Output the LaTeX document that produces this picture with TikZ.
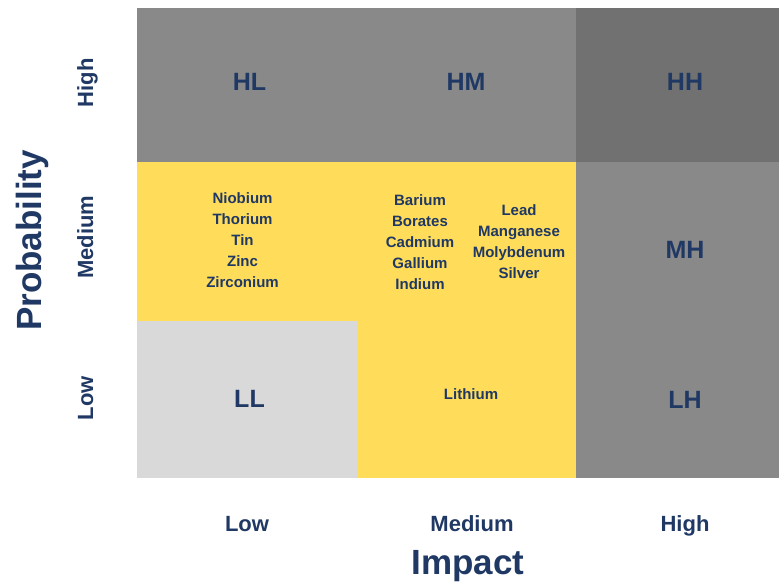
\documentclass[tikz,border=0pt]{standalone}
\usepackage{fontspec}
\setmainfont{Liberation Sans}
\definecolor{navy}{HTML}{1F3864}
\definecolor{cellgray}{HTML}{898989}
\definecolor{darkcell}{HTML}{717171}
\definecolor{riskyellow}{HTML}{FFDC5A}
\definecolor{lightcell}{HTML}{D9D9D9}
\begin{document}
\begin{tikzpicture}[x=1pt,y=-1pt,
  code/.style={text=navy, inner sep=0pt, text height=18.2pt, text depth=0pt, font=\bfseries\fontsize{25}{30}\selectfont},
  elem/.style={text=navy, inner sep=0pt, align=center, font=\bfseries\fontsize{15}{21}\selectfont},
  axlab/.style={text=navy, inner sep=0pt, text height=16pt, text depth=0pt, font=\bfseries\fontsize{22}{26}\selectfont},
  axtitle/.style={text=navy, inner sep=0pt, text height=25.5pt, text depth=0pt, font=\bfseries\fontsize{35}{40}\selectfont}]
\useasboundingbox (0,0) rectangle (779,581);
% cells
\fill[cellgray] (137,8) rectangle (576,162);
\fill[darkcell] (576,8) rectangle (779,162);
\fill[cellgray] (576,162) rectangle (779,478);
\fill[riskyellow] (137,162) rectangle (576,478);
\fill[lightcell] (137,321) rectangle (357,478);
% cell codes
\node[code] (hl) at (249.5,81.5) {HL};
\node[code] (hm) at (466,81.5) {HM};
\node[code] (hh) at (685,81.5) {HH};
\node[code] (mh) at (685,249) {MH};
\node[code] (ll) at (249.5,398) {LL};
\node[code] (lh) at (685,399) {LH};
% elements
\node[elem] (ml) at (242.5,240) {Niobium\\Thorium\\Tin\\Zinc\\Zirconium};
\node[elem] (mma) at (420,242) {Barium\\Borates\\Cadmium\\Gallium\\Indium};
\node[elem] (mmb) at (519,242) {Lead\\Manganese\\Molybdenum\\Silver};
\node[elem] (lm) at (471,394) {Lithium};
% probability axis
\node[axlab, rotate=90] (ph) at (85,83) {High};
\node[axlab, rotate=90] (pm) at (85,237) {Medium};
\node[axlab, rotate=90] (pl) at (85,398) {Low};
\node[axtitle, rotate=90] (prob) at (28.5,240.5) {Probability};
% impact axis
\node[axlab] (il) at (247,523) {Low};
\node[axlab] (im) at (472,523) {Medium};
\node[axlab] (ih) at (685,523) {High};
\node[axtitle] (imp) at (468,561.3) {Impact};
\end{tikzpicture}
\end{document}
